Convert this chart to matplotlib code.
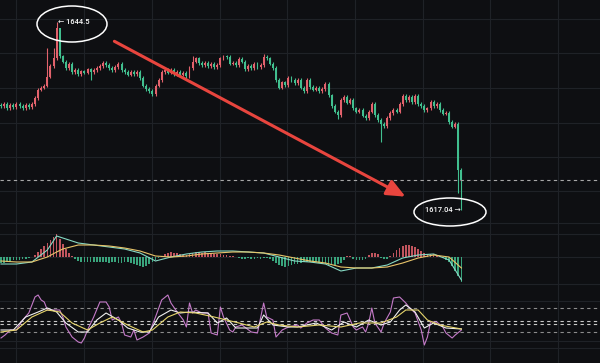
import matplotlib
matplotlib.use("Agg")
import matplotlib.pyplot as plt
from matplotlib.patches import Ellipse
import numpy as np

# ---------------- data ----------------
first_open = 1632.4
closes = [
    1632.2, 1632.5, 1631.9, 1632.4, 1632.1, 1632.5, 1632.2, 1631.9, 1632.4, 1632.1,
    1632.5, 1633.4, 1634.6, 1634.9, 1635.2, 1636.5, 1638.1, 1639.2, 1643.6, 1639.5,
    1638.7, 1637.8, 1638.4, 1637.2, 1637.5, 1636.9, 1637.3, 1637.1, 1637.6, 1637.2,
    1637.5, 1637.8, 1638.1, 1638.5, 1638.2, 1637.8, 1637.5, 1637.9, 1638.4, 1637.5,
    1637.2, 1636.8, 1637.2, 1636.9, 1637.2, 1636.3, 1635.2, 1634.7, 1634.4, 1634.0,
    1635.2, 1636.0, 1637.2, 1637.5, 1637.1, 1637.5, 1636.9, 1637.2, 1636.8, 1637.1,
    1636.6, 1637.8, 1638.7, 1639.2, 1638.5, 1638.2, 1638.5, 1638.1, 1638.4, 1637.9,
    1638.2, 1639.2, 1639.5, 1639.4, 1638.4, 1638.5, 1638.2, 1639.1, 1638.7, 1637.6,
    1638.1, 1637.8, 1638.4, 1637.9, 1638.2, 1639.4, 1639.2, 1638.4, 1637.8, 1636.0,
    1634.9, 1635.7, 1635.3, 1636.3, 1636.0, 1635.6, 1636.0, 1634.9, 1634.4, 1636.0,
    1635.0, 1634.6, 1634.9, 1634.4, 1634.7, 1635.45, 1633.8, 1632.2, 1631.4, 1630.9,
    1633.1, 1633.55, 1632.7, 1633.1, 1631.9, 1631.4, 1631.65, 1630.8, 1630.5, 1631.4,
    1632.5, 1630.9, 1630.2, 1629.6, 1629.3, 1630.5, 1631.2, 1631.65, 1631.4, 1632.5,
    1633.7, 1633.1, 1633.55, 1632.8, 1633.7, 1632.5, 1632.2, 1631.65, 1631.9, 1632.8,
    1632.2, 1632.5, 1631.65, 1631.1, 1631.2, 1629.9, 1629.2, 1629.6, 1622.9, 1621.4,
]
# notable wick extremes (index: price)
highs = {15: 1640.7, 17: 1640.7, 18: 1644.5, 19: 1641.9, 62: 1639.6, 85: 1639.8}
lows = {29: 1636.0, 49: 1633.7, 109: 1630.4, 123: 1627.0, 148: 1619.5, 149: 1617.04}
peak_label = "← 1644.5"
low_label = "1617.04 →"

macd_hist = [
    -0.6, -0.6, -0.5, -0.4, -0.3, -0.3, -0.3, -0.2, -0.2, -0.1,
    0.0, 0.2, 0.5, 0.8, 1.1, 1.4, 1.7, 2.0, 2.3, 1.8,
    1.3, 0.8, 0.4, 0.1, -0.2, -0.4, -0.5, -0.5, -0.5, -0.5,
    -0.5, -0.5, -0.5, -0.5, -0.5, -0.6, -0.5, -0.5, -0.6, -0.6,
    -0.5, -0.5, -0.6, -0.7, -0.8, -0.9, -1.0, -0.9, -0.7, -0.5,
    -0.3, -0.1, 0.1, 0.3, 0.4, 0.5, 0.4, 0.4, 0.3, 0.2,
    0.2, 0.3, 0.4, 0.5, 0.5, 0.4, 0.5, 0.4, 0.4, 0.3,
    0.3, 0.3, 0.2, 0.2, 0.1, 0.1, 0.0, -0.1, -0.2, -0.2,
    -0.1, -0.2, -0.2, -0.1, -0.2, -0.1, -0.1, -0.2, -0.4, -0.6,
    -0.8, -0.9, -1.0, -0.9, -0.8, -0.7, -0.7, -0.6, -0.5, -0.5,
    -0.5, -0.5, -0.5, -0.6, -0.6, -0.7, -0.8, -0.8, -0.8, -0.7,
    -0.6, -0.3, 0.1, 0.1, -0.2, -0.3, -0.3, -0.3, -0.2, 0.2,
    0.4, 0.4, 0.3, -0.1, -0.2, -0.2, 0.1, 0.4, 0.7, 0.9,
    1.1, 1.2, 1.2, 1.1, 1.0, 0.8, 0.6, 0.4, 0.3, 0.3,
    0.3, 0.2, 0.1, -0.1, -0.3, -0.5, -0.9, -1.4, -1.9, -2.5,
]
macd_idx = [0, 5, 10, 15, 18, 20, 25, 30, 35, 40, 45, 50, 55, 60, 65, 70, 75, 80,
            85, 90, 95, 100, 105, 110, 115, 120, 125, 130, 135, 140, 145, 149]
dif = [-0.7, -0.7, -0.5, 0.7, 2.1, 1.9, 1.4, 1.2, 1.0, 0.8, 0.4, -0.4, 0.0, 0.3, 0.5, 0.6,
       0.6, 0.5, 0.4, 0.0, -0.4, -0.5, -0.7, -1.4, -1.1, -1.1, -0.8, -0.1, 0.2, 0.3, -0.3, -2.3]
dea = [-0.4, -0.5, -0.5, 0.0, 0.5, 0.8, 1.2, 1.2, 1.1, 0.9, 0.6, 0.1, 0.0, 0.1, 0.3, 0.4,
       0.5, 0.5, 0.4, 0.2, -0.1, -0.4, -0.6, -1.0, -1.1, -1.1, -1.0, -0.6, -0.1, 0.2, 0.0, -1.1]

k_idx = [0, 4, 8, 12, 15, 18, 21, 25, 28, 31, 34, 38, 41, 45, 48, 51, 55, 58, 61, 67, 70,
         73, 76, 80, 83, 85, 88, 93, 96, 102, 107, 111, 115, 119, 123, 126, 129, 131, 134,
         137, 140, 144, 149]
k_vals = [25, 25, 57.5, 70, 80, 70, 42.5, 20, 20, 50, 67.5, 50, 30, 20, 20, 57.5, 75, 67.5,
          70, 67.5, 42.5, 55, 30, 30, 30, 62.5, 37.5, 32.5, 32.5, 42.5, 25, 45, 32.5, 50,
          37.5, 45, 75, 87.5, 70, 30, 42.5, 30, 27.5]
d_idx = [0, 5, 10, 15, 19, 23, 28, 32, 36, 41, 46, 49, 54, 58, 63, 69, 73, 77, 82, 86, 90,
         96, 103, 110, 116, 123, 128, 131, 135, 138, 142, 149]
d_vals = [20, 25, 57.5, 75, 70, 42.5, 25, 42.5, 57.5, 37.5, 20, 25, 57.5, 70, 67.5, 57.5, 50,
          42.5, 32.5, 45, 37.5, 32.5, 37.5, 32.5, 42.5, 42.5, 57.5, 75, 75, 50, 37.5, 27.5]
j_idx = [0, 1.3, 3, 5, 7, 9, 11, 12, 13, 14, 15, 17, 19, 20, 21, 23, 25, 26, 27, 28, 30, 32,
         34, 35, 36, 38, 39, 40, 42, 43, 44, 46, 48, 50, 52, 54, 55, 57, 59, 60, 61, 62, 63,
         65, 67, 68, 70, 71, 72, 74, 75, 76, 78, 81, 83, 85, 86, 88, 89, 91, 93, 96, 97, 99,
         101, 103, 105, 107, 109, 110, 112, 114, 115, 117, 118, 119, 120, 121, 123, 124, 126,
         127, 129, 131, 132, 134, 136, 137, 138, 139, 141, 143, 144, 146, 147, 149]
j_vals = [5, 12.5, 25, 25, 50, 67.5, 107.5, 112.5, 100, 95, 75, 75, 75, 57.5, 32.5, 7.5, -5,
          -7.5, 5, 25, 57.5, 95, 95, 82.5, 50, 57.5, 42.5, 12.5, 7.5, 25, 0, 7.5, 17.5, 57.5,
          100, 112.5, 92.5, 70, 50, 32.5, 92.5, 67.5, 75, 67.5, 67.5, 17.5, 12.5, 82.5, 57.5,
          25, 20, 32.5, 37.5, 20, 17.5, 92.5, 57.5, 50, 7.5, 25, 32.5, 37.5, 30, 42.5, 50, 50,
          30, 17.5, 12.5, 62.5, 67.5, 32.5, 25, 32.5, 20, 42.5, 80, 42.5, 20, 42.5, 70, 105,
          107.5, 92.5, 82.5, 67.5, 25, -12.5, 7.5, 45, 45, 32.5, 17.5, 5, 12.5, 25]
kdj_levels = [80, 48, 40, 20]
kdj_level_colors = ["#8c8c8c", "#c8c8c8", "#c8c8c8", "#8c8c8c"]

# ---------------- style ----------------
W, H = 600, 363
BG = "#0e0f12"
GRID = "#1f2227"
UP = "#e2626c"
DOWN = "#41bf8f"

fig = plt.figure(figsize=(W / 100, H / 100), dpi=100, facecolor=BG)

# background grid (pixel space)
bg = fig.add_axes([0, 0, 1, 1], zorder=0)
bg.set_xlim(0, W)
bg.set_ylim(H, 0)
bg.set_facecolor(BG)
bg.axis("off")
for gx in [16, 84, 152, 220, 287, 355, 423, 490, 558]:
    bg.axvline(gx, color=GRID, lw=0.8)
for gy in [19, 53, 88, 123, 157, 191, 223, 234, 257, 284, 301, 341, 348]:
    bg.axhline(gy, color=GRID, lw=0.8)

n = len(closes)
idx = np.arange(n)
opens = [first_open] + closes[:-1]
XL = (-0.324, 193.85)


def panel(top_px, bot_px, ylim):
    ax = fig.add_axes([0, 1 - bot_px / H, 1, (bot_px - top_px) / H], zorder=2)
    ax.set_facecolor("none")
    ax.set_xlim(*XL)
    ax.set_ylim(*ylim)
    ax.axis("off")
    return ax


# ---------------- main candles ----------------
ax = panel(0, 230, (1614.12, 1647.71))
for i in range(n):
    o, c = opens[i], closes[i]
    col = UP if c >= o else DOWN
    hi = highs.get(i, max(o, c) + 0.25)
    lo = lows.get(i, min(o, c) - 0.25)
    ax.vlines(i, lo, hi, color=col, lw=0.8)
    ax.bar(i, max(abs(c - o), 0.12), bottom=min(o, c), width=0.62, color=col, lw=0)

ax.axhline(closes[-1], color="#a8a8a8", lw=0.8, ls=(0, (3, 3)))
lbl = dict(color="white", fontsize=5.4, family=["Roboto", "DejaVu Sans"],
           fontweight="medium", va="center")
ax.text(18.4, 1644.5, peak_label, ha="left", **lbl)
ax.text(148.7, 1617.04, low_label, ha="right", **lbl)
ax.annotate("", xy=(131.7, 1618.8), xytext=(35.9, 1641.87),
            arrowprops=dict(arrowstyle="-|>,head_length=0.8,head_width=0.35",
                            color="#e8453e", lw=2.2, mutation_scale=14))

# ---------------- MACD ----------------
am = panel(230, 290, (-3.3, 2.7))
hcols = [UP if v >= 0 else DOWN for v in macd_hist]
am.bar(idx, macd_hist, width=0.55, color=hcols, alpha=0.85, lw=0)
am.plot(macd_idx, dif, color="#86d9c4", lw=0.8)
am.plot(macd_idx, dea, color="#e8c46a", lw=0.8)

# ---------------- KDJ ----------------
ak = panel(290, 363, (-57.5, 125))
for lv, lc in zip(kdj_levels, kdj_level_colors):
    ak.axhline(lv, color=lc, lw=0.8, ls=(0, (3, 3)))
ak.plot(j_idx, j_vals, color="#c47ac8", lw=0.8)
ak.plot(k_idx, k_vals, color="#f0f0f0", lw=0.8)
ak.plot(d_idx, d_vals, color="#e6d56c", lw=0.8)

# ---------------- ellipse highlights (pixel space overlay) ----------------
top = fig.add_axes([0, 0, 1, 1], zorder=5)
top.set_xlim(0, W)
top.set_ylim(H, 0)
top.set_facecolor("none")
top.axis("off")
top.add_patch(Ellipse((72, 24), 70, 36, fill=False, ec="white", lw=1.1))
top.add_patch(Ellipse((450, 212), 72, 28, fill=False, ec="white", lw=1.1))

fig.savefig("out.png", dpi=100, facecolor=BG)
